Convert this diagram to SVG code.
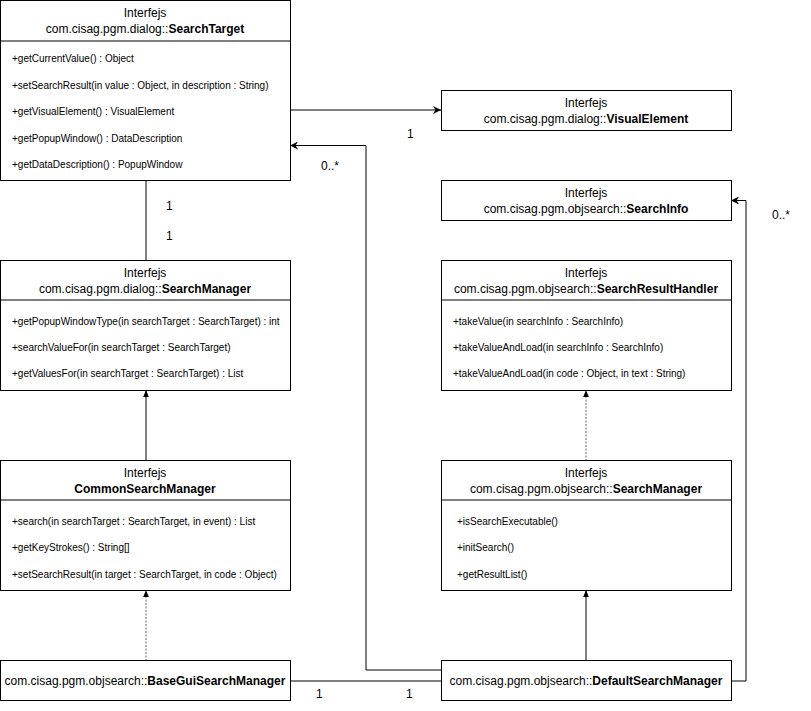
<svg xmlns="http://www.w3.org/2000/svg" width="811" height="711" viewBox="0 0 811 711">
<style>
.box{fill:#fff;stroke:#000;stroke-width:1}
.h{font-family:"Liberation Sans",Arial,sans-serif;font-size:12px;fill:#000;text-anchor:middle}
.m{font-family:"Liberation Sans",Arial,sans-serif;font-size:10px;fill:#000}
.b{font-weight:bold}
.l{font-family:"Liberation Sans",Arial,sans-serif;font-size:12px;fill:#000}
.c{fill:none;stroke:#000;stroke-width:1}
.d{fill:none;stroke:#666;stroke-width:1;stroke-dasharray:2 1.5}
</style>
<defs>
<marker id="ar" viewBox="0 0 10 10" refX="10" refY="5" markerWidth="8" markerHeight="8" orient="auto" markerUnits="userSpaceOnUse">
<path d="M0,0 L10,5 L0,10 L3,5 Z" fill="#000"/>
</marker>
<marker id="tri" viewBox="0 0 10 10" refX="10" refY="5" markerWidth="7" markerHeight="7" orient="auto" markerUnits="userSpaceOnUse">
<path d="M0,1 L10,5 L0,9 Z" fill="#000"/>
</marker>
</defs>
<rect width="811" height="711" fill="#fff"/>
<g id="connectors">
<path class="c" d="M290,110 H441" marker-end="url(#ar)"/>
<path class="c" d="M146,180 V261"/>
<path class="c" d="M146,461 V390" marker-end="url(#tri)"/>
<path class="d" d="M146,661 V590" marker-end="url(#tri)"/>
<path class="d" d="M586,461 V390" marker-end="url(#tri)"/>
<path class="c" d="M586,661 V590" marker-end="url(#tri)"/>
<path class="c" d="M290,681 H441"/>
<path class="c" d="M441,670 H366 V145.5 H290" marker-end="url(#ar)"/>
<path class="c" d="M731,681 H746 V200.5 H731" marker-end="url(#ar)"/>
<text class="l" x="407" y="138">1</text>
<text class="l" x="321" y="170">0..*</text>
<text class="l" x="772" y="219">0..*</text>
<text class="l" x="166" y="210">1</text>
<text class="l" x="166" y="240">1</text>
<text class="l" x="316" y="698">1</text>
<text class="l" x="406" y="698">1</text>
</g>
<g id="SearchTarget">
<rect class="box" x="0.5" y="0.5" width="290" height="180"/>
<line class="c" x1="0.5" y1="41" x2="290.5" y2="41"/>
<text class="h" x="145" y="17">Interfejs</text>
<text class="h" x="145" y="33">com.cisag.pgm.dialog::<tspan class="b">SearchTarget</tspan></text>
<text class="m" x="12" y="62">+getCurrentValue() : Object</text>
<text class="m" x="12" y="89">+setSearchResult(in value : Object, in description : String)</text>
<text class="m" x="12" y="115">+getVisualElement() : VisualElement</text>
<text class="m" x="12" y="142">+getPopupWindow() : DataDescription</text>
<text class="m" x="12" y="168">+getDataDescription() : PopupWindow</text>
</g>
<g id="VisualElement">
<rect class="box" x="441.5" y="90.5" width="290" height="40"/>
<text class="h" x="586" y="107">Interfejs</text>
<text class="h" x="586" y="123">com.cisag.pgm.dialog::<tspan class="b">VisualElement</tspan></text>
</g>
<g id="SearchInfo">
<rect class="box" x="441.5" y="180.5" width="290" height="40"/>
<text class="h" x="586" y="197">Interfejs</text>
<text class="h" x="586" y="213">com.cisag.pgm.objsearch::<tspan class="b">SearchInfo</tspan></text>
</g>
<g id="DialogSearchManager">
<rect class="box" x="0.5" y="260.5" width="290" height="130"/>
<line class="c" x1="0.5" y1="300" x2="290.5" y2="300"/>
<text class="h" x="145" y="277">Interfejs</text>
<text class="h" x="145" y="293">com.cisag.pgm.dialog::<tspan class="b">SearchManager</tspan></text>
<text class="m" x="12" y="325">+getPopupWindowType(in searchTarget : SearchTarget) : int</text>
<text class="m" x="12" y="351">+searchValueFor(in searchTarget : SearchTarget)</text>
<text class="m" x="12" y="377">+getValuesFor(in searchTarget : SearchTarget) : List</text>
</g>
<g id="SearchResultHandler">
<rect class="box" x="441.5" y="260.5" width="290" height="130"/>
<line class="c" x1="441.5" y1="300" x2="731.5" y2="300"/>
<text class="h" x="586" y="277">Interfejs</text>
<text class="h" x="586" y="293">com.cisag.pgm.objsearch::<tspan class="b">SearchResultHandler</tspan></text>
<text class="m" x="453" y="325">+takeValue(in searchInfo : SearchInfo)</text>
<text class="m" x="453" y="351">+takeValueAndLoad(in searchInfo : SearchInfo)</text>
<text class="m" x="453" y="377">+takeValueAndLoad(in code : Object, in text : String)</text>
</g>
<g id="CommonSearchManager">
<rect class="box" x="0.5" y="460.5" width="290" height="130"/>
<line class="c" x1="0.5" y1="500" x2="290.5" y2="500"/>
<text class="h" x="145" y="477">Interfejs</text>
<text class="h b" x="145" y="493">CommonSearchManager</text>
<text class="m" x="12" y="525">+search(in searchTarget : SearchTarget, in event) : List</text>
<text class="m" x="12" y="551">+getKeyStrokes() : String[]</text>
<text class="m" x="12" y="578">+setSearchResult(in target : SearchTarget, in code : Object)</text>
</g>
<g id="ObjSearchManager">
<rect class="box" x="441.5" y="460.5" width="290" height="130"/>
<line class="c" x1="441.5" y1="500" x2="731.5" y2="500"/>
<text class="h" x="586" y="477">Interfejs</text>
<text class="h" x="586" y="493">com.cisag.pgm.objsearch::<tspan class="b">SearchManager</tspan></text>
<text class="m" x="457" y="525">+isSearchExecutable()</text>
<text class="m" x="457" y="551">+initSearch()</text>
<text class="m" x="457" y="578">+getResultList()</text>
</g>
<g id="BaseGuiSearchManager">
<rect class="box" x="0.5" y="660.5" width="290" height="40"/>
<text class="h" x="145" y="685">com.cisag.pgm.objsearch::<tspan class="b">BaseGuiSearchManager</tspan></text>
</g>
<g id="DefaultSearchManager">
<rect class="box" x="441.5" y="660.5" width="290" height="40"/>
<text class="h" x="586" y="685">com.cisag.pgm.objsearch::<tspan class="b">DefaultSearchManager</tspan></text>
</g>
</svg>
